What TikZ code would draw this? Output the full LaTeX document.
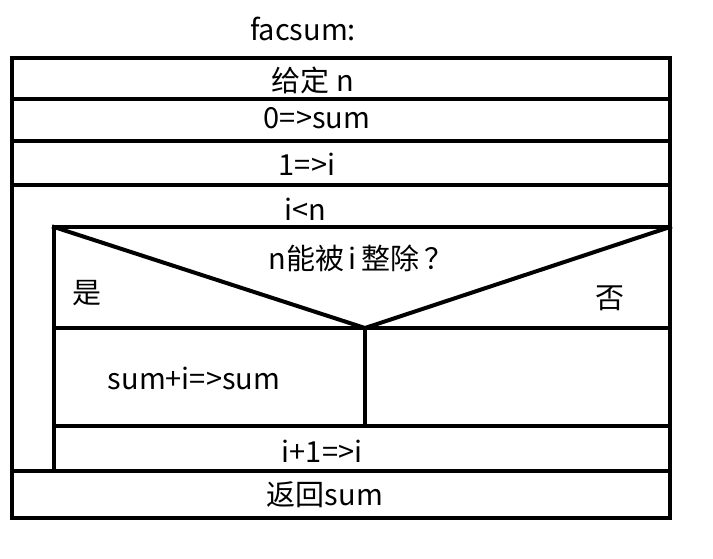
\documentclass[tikz,border=0pt]{standalone}
\usepackage{fontspec}
\setmainfont{Noto Sans CJK SC}
\begin{document}
\begin{tikzpicture}[x=1pt,y=-1pt,
  box/.style={line width=4pt, line cap=rect, line join=miter},
  lbl/.style={inner sep=0pt, font=\fontsize{29}{32}\selectfont, anchor=center}]
\useasboundingbox (0,0) rectangle (713,558);
% outer frame
\draw[box] (12,58) rectangle (670,518);
\draw[box] (12,99) -- (670,99);
\draw[box] (12,141) -- (670,141);
\draw[box] (12,185) -- (670,185);
% loop body
\draw[box] (54,227) -- (670,227);
\draw[box] (54,227) -- (54,471);
\draw[box] (12,471) -- (670,471);
% decision
\draw[box] (54,328) -- (670,328);
\draw[box] (54,227) -- (365,328) -- (670,227);
\draw[box] (365,328) -- (365,426);
\draw[box] (54,426) -- (670,426);
% texts
\node[lbl] (title) at (303,29) {facsum:};
\node[lbl] (given) at (313,80) {给定 n};
\node[lbl] (zero) at (317,118) {0=>sum};
\node[lbl] (one) at (307,164) {1=>i};
\node[lbl] (cond) at (305,209) {i<n};
\node[lbl] (dec) at (361,258) {n能被\,i\,整除\,？};
\node[lbl] (yes) at (87,293) {是};
\node[lbl] (no) at (610,298) {否};
\node[lbl] (add) at (194,378) {sum+i=>sum};
\node[lbl] (inc) at (322,451) {i+1=>i};
\node[lbl] (ret) at (325,495) {返回sum};
\end{tikzpicture}
\end{document}
